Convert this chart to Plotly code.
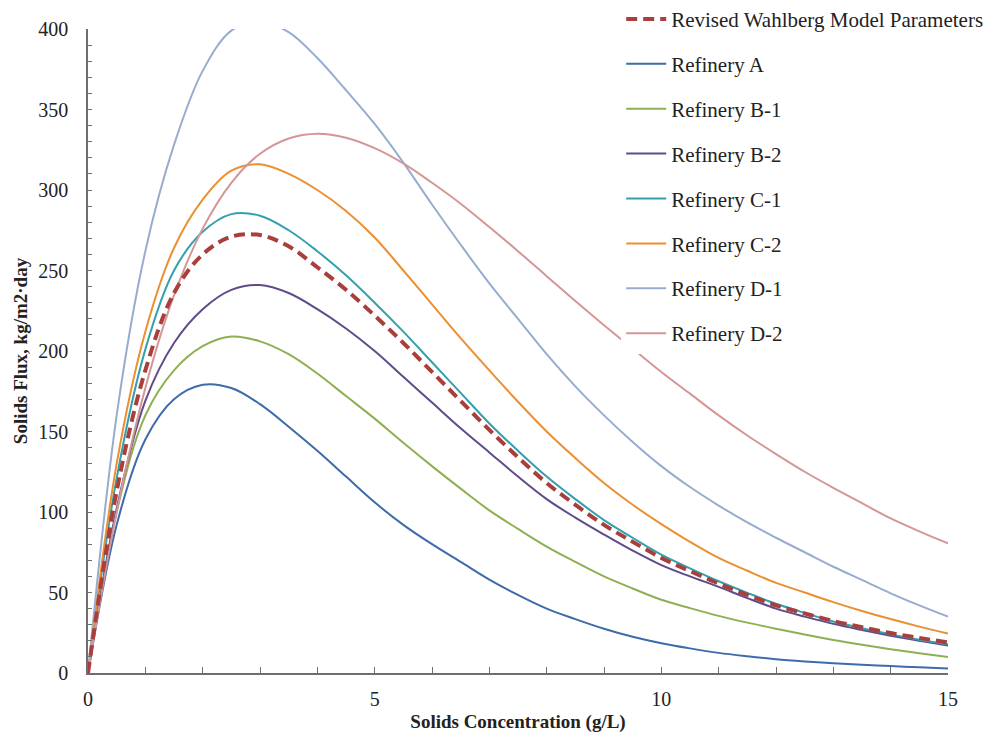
import plotly.graph_objects as go

conc = [0, 0.5, 1, 1.5, 2, 2.5, 3, 3.5, 4, 4.5, 5, 5.5, 6, 6.5, 7, 7.5, 8, 8.5, 9, 9.5,
        10, 10.5, 11, 11.5, 12, 12.5, 13, 13.5, 14, 14.5, 15]

wahlberg = [0, 113, 188, 236, 260, 271, 272, 265, 252, 238, 222, 205, 187, 169, 151, 134, 118, 104.5, 92, 81.5,
            71.5, 63.3, 55.5, 48.5, 42, 37, 32.3, 28.4, 24.8, 21.8, 19]
ref_a = [0, 92, 145, 170, 179, 177, 167, 153, 138, 122, 106, 92, 80, 69, 58, 48.5, 40, 33.5, 27.5, 22.5,
         18.5, 15.3, 12.5, 10.4, 8.6, 7.2, 6, 5.1, 4.3, 3.5, 2.8]
ref_b1 = [0, 100, 160, 188, 203, 209, 206, 198, 186, 172, 158, 143, 128.5, 114.5, 101, 89.5, 78.5, 69, 60, 52.5,
          45.5, 40.3, 35.5, 31.3, 27.5, 23.9, 20.5, 17.5, 14.8, 12.3, 10]
ref_b2 = [0, 102, 169, 205, 226, 238, 241, 236, 226, 214, 200, 184, 168, 152, 137, 122, 108, 96.5, 86, 76,
          67, 60, 53.5, 46.5, 40, 35, 30.5, 26.7, 23.2, 20, 17]
ref_c1 = [0, 121, 201, 250, 274, 285, 284, 275, 262, 247, 230, 212, 193, 174, 155, 138, 122, 108, 95, 84,
          73.5, 65, 57, 49.8, 43, 37.3, 32, 27.8, 24, 20.7, 17.8]
ref_c2 = [0, 130, 212, 264, 294, 312, 316, 310, 300, 287, 270.5, 250, 229, 208, 188, 168.5, 150, 133.5, 118, 104.5,
          92.5, 81.5, 71.5, 63.5, 56, 50, 44, 38.5, 33.5, 28.8, 24.5]
ref_d1 = [0, 160, 262, 328, 374, 399, 405, 398, 382, 362, 341, 317, 291, 266, 242, 220, 198, 178, 160, 143.5,
          128.5, 115.5, 104, 93.5, 84, 75, 66, 57.8, 49.5, 42, 35]
ref_d2 = [0, 100, 177, 234.5, 276, 304.5, 322.5, 332, 335, 332.5, 326, 316.5, 304.5, 291.5, 277, 262, 246.5, 231, 216, 201.5,
          187, 173.5, 160, 147.5, 136, 125, 115, 105.5, 96, 88, 80.5]

names = ["Revised Wahlberg Model Parameters", "Refinery A", "Refinery B-1", "Refinery B-2",
         "Refinery C-1", "Refinery C-2", "Refinery D-1", "Refinery D-2"]
series = [wahlberg, ref_a, ref_b1, ref_b2, ref_c1, ref_c2, ref_d1, ref_d2]
colors = ["#A93F3D", "#3E6BAA", "#8EB052", "#5F4B8B", "#33A0AE", "#EB8F31", "#98ACD0", "#D49696"]

fig = go.Figure()
# draw solid series first, dashed model on top
order = [1, 2, 3, 4, 5, 6, 7, 0]
for i in order:
    dashed = (i == 0)
    fig.add_trace(go.Scatter(
        x=conc, y=series[i], mode="lines", name=names[i],
        line=dict(color=colors[i], width=4 if dashed else 2,
                  dash="11px,6px" if dashed else "solid", shape="spline", smoothing=1.0),
        legendrank=i + 1, legendgroup=f"g{i}",
    ))

serif = "Liberation Serif, Times New Roman, serif"
fig.update_layout(
    width=1000, height=738,
    margin=dict(l=80, r=60, t=21, b=73, autoexpand=False),
    paper_bgcolor="white", plot_bgcolor="white",
    font=dict(family=serif, size=20, color="#222222"),
    showlegend=True,
    legend=dict(x=0.620, y=1.047, xanchor="left", yanchor="top",
                bgcolor="white", borderwidth=0, tracegroupgap=14.6,
                font=dict(family=serif, size=21, color="#222222"),
                itemwidth=40),
)
fig.update_xaxes(
    range=[0, 15], tickvals=[0, 5, 10, 15], ticks="inside", ticklen=6, tickcolor="#6e6e6e",
    minor=dict(dtick=1, ticks="inside", ticklen=6, tickcolor="#6e6e6e"),
    showline=True, linecolor="#6e6e6e", linewidth=1.5, showgrid=False, zeroline=False,
    ticklabelstandoff=7, automargin=False,
    title=dict(text="<b>Solids Concentration (g/L)</b>", font=dict(family=serif, size=19), standoff=6),
)
fig.update_yaxes(
    range=[0, 400], dtick=50, ticks="inside", ticklen=4, tickcolor="#6e6e6e",
    minor=dict(dtick=10, ticks="inside", ticklen=4, tickcolor="#6e6e6e"),
    showline=True, linecolor="#6e6e6e", linewidth=1.5, showgrid=False, zeroline=False,
    ticklabelstandoff=14, automargin=False,
    title=dict(text="<b>Solids Flux, kg/m2·day</b>", font=dict(family=serif, size=19), standoff=6),
)

fig.write_html("out.html")
